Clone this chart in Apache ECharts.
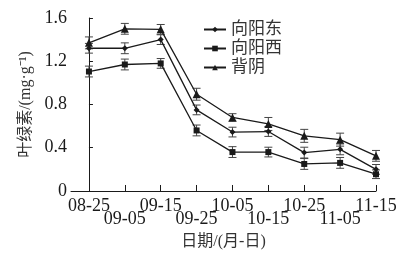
<!DOCTYPE html>
<html><head><meta charset="utf-8">
<script src="https://cdn.jsdelivr.net/npm/echarts@6/dist/echarts.min.js"></script>
<style>html,body{margin:0;padding:0;background:#fff}#c{width:403px;height:255px}</style>
</head><body><div id="c"></div>
<script>
const categories = ['08-25','09-05','09-15','09-25','10-05','10-15','10-25','11-05','11-15'];
const seriesNames = ['向阳东','向阳西','背阴'];
const eastValues = [1.32, 1.32, 1.40, 0.75, 0.545, 0.55, 0.355, 0.385, 0.20];
const eastErr    = [0.045,0.05, 0.045,0.045,0.045,0.045,0.05, 0.05, 0.045];
const westValues = [1.105,1.17, 1.18, 0.56, 0.36, 0.36, 0.25, 0.26, 0.155];
const westErr    = [0.05, 0.05, 0.045,0.05, 0.05, 0.045,0.05, 0.05, 0.04];
const shadeValues= [1.37, 1.50, 1.495,0.895,0.68, 0.62, 0.51, 0.475,0.325];
const shadeErr   = [0.055,0.05, 0.045,0.055,0.035,0.06, 0.06, 0.06, 0.05];
const yTicks = [0, 0.4, 0.8, 1.2, 1.6];

const serif = '"Liberation Serif","DejaVu Serif",serif';
const cjk = '"Liberation Serif","Noto Sans CJK SC",serif';
const ink = '#1a1a1a';

const allIdx = categories.map((c,i)=>i);
const evenIdx = allIdx.filter(i=>i%2===0);
const oddIdx = allIdx.filter(i=>i%2===1);

function pts(vals){ return vals.map((v,i)=>[i,v]); }
function errData(vals,errs){ return vals.map((v,i)=>[i, v-errs[i], v+errs[i]]); }

function errSeries(vals,errs){
  return {
    type:'custom', silent:true, z:1, xAxisIndex:0,
    data: errData(vals,errs),
    encode:{x:0,y:[1,2]},
    renderItem:function(params, api){
      const x = api.value(0);
      const lo = api.coord([x, api.value(1)]);
      const hi = api.coord([x, api.value(2)]);
      const w = 4;
      const st = {stroke:'#444', lineWidth:1};
      return {type:'group', children:[
        {type:'line', shape:{x1:lo[0],y1:lo[1],x2:hi[0],y2:hi[1]}, style:st},
        {type:'line', shape:{x1:lo[0]-w,y1:lo[1],x2:lo[0]+w,y2:lo[1]}, style:st},
        {type:'line', shape:{x1:hi[0]-w,y1:hi[1],x2:hi[0]+w,y2:hi[1]}, style:st}
      ]};
    }
  };
}

function lineSeries(name, vals, symbol, size){
  return {
    name:name, type:'line', z:3, xAxisIndex:0,
    data: pts(vals),
    symbol:symbol, symbolSize:size, showSymbol:true,
    lineStyle:{color:ink, width:1.3},
    itemStyle:{color:ink, borderWidth:0},
    emphasis:{disabled:true}
  };
}

const labelFmt = function(v){ return categories[Math.round(v)]; };

const chart = echarts.init(document.getElementById('c'));
chart.setOption({
  animation:false,
  backgroundColor:'#fff',
  grid:{left:71, right:27, top:18, bottom:62, containLabel:false},
  legend:{
    left:198, top:16, orient:'vertical', itemGap:2, itemWidth:22, itemHeight:7,
    data:seriesNames,
    textStyle:{fontFamily:cjk, fontSize:17, color:'#333', padding:[0,0,0,0]}
  },
  xAxis:[{
    type:'value', min:-0.5, max:8, position:'bottom',
    name:'日期/(月-日)', nameLocation:'middle', nameGap:43,
    nameTextStyle:{fontFamily:cjk, fontSize:16, color:'#333'},
    axisLine:{lineStyle:{color:ink, width:1}},
    axisTick:{show:true, inside:true, length:6, lineStyle:{color:ink}, customValues:allIdx},
    splitLine:{show:false},
    axisLabel:{
      customValues:evenIdx, showMinLabel:true, showMaxLabel:true, hideOverlap:false,
      margin:6, fontFamily:serif, fontSize:18, color:ink, formatter:labelFmt
    }
  },{
    type:'value', min:-0.5, max:8, position:'bottom', offset:0,
    axisLine:{show:false}, axisTick:{show:false}, splitLine:{show:false},
    axisLabel:{
      customValues:oddIdx, showMinLabel:true, showMaxLabel:true, hideOverlap:false,
      margin:19, fontFamily:serif, fontSize:18, color:ink, formatter:labelFmt
    }
  }],
  yAxis:{
    type:'value', min:0, max:1.6, interval:0.4,
    name:'叶绿素/(mg·g⁻¹)', nameLocation:'middle', nameGap:34,
    nameTextStyle:{fontFamily:cjk, fontSize:16, color:'#333'},
    axisLine:{show:true, lineStyle:{color:ink, width:1}},
    axisTick:{show:true, inside:true, length:4, lineStyle:{color:ink}},
    splitLine:{show:false},
    axisLabel:{
      margin:4, fontFamily:serif, fontSize:18, color:ink,
      formatter:function(v){
        const t = yTicks.find(x=>Math.abs(x-v)<1e-6);
        return t===0 ? '0' : (t!==undefined ? t.toFixed(1) : '');
      }
    }
  },
  series:[
    errSeries(eastValues,eastErr),
    errSeries(westValues,westErr),
    errSeries(shadeValues,shadeErr),
    lineSeries(seriesNames[0], eastValues, 'diamond', 6),
    lineSeries(seriesNames[1], westValues, 'rect', 6),
    lineSeries(seriesNames[2], shadeValues, 'triangle', 8)
  ]
});
</script>
</body></html>
